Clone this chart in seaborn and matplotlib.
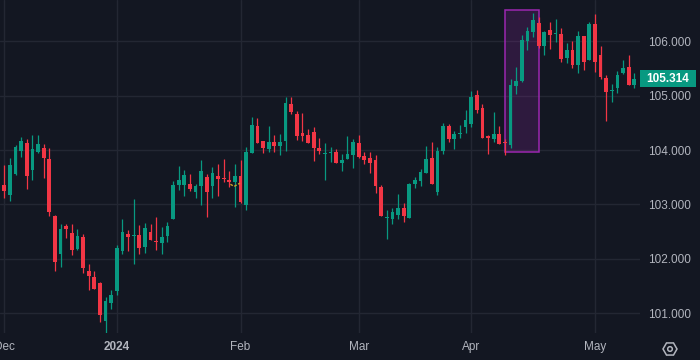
import numpy as np
import pandas as pd
import matplotlib
matplotlib.use("Agg")
import matplotlib.pyplot as plt
import seaborn as sns
from matplotlib.patches import Rectangle, RegularPolygon, Circle
from matplotlib.transforms import blended_transform_factory, IdentityTransform

# ---------------- data (daily candles, Dec 2023 - May 2024) ----------------
opens = [103.36, 103.18, 103.55, 103.98, 104.13, 103.63, 103.96, 104.04, 103.83, 102.79,
         102.09, 102.60, 102.47, 102.18, 102.40, 101.77, 101.66, 101.55, 100.85, 101.18,
         101.40, 102.14, 102.45, 102.41, 102.44, 102.22, 102.49, 102.32, 102.29, 102.42,
         102.73, 103.36, 103.36, 103.37, 103.23, 103.34, 103.50, 103.34, 103.52, 103.48,
         103.45, 103.41, 103.52, 102.99, 103.94, 104.44, 104.17, 104.02, 104.15, 104.07,
         104.17, 104.85, 104.66, 104.31, 104.28, 104.33, 104.04, 103.93, 103.95, 103.96,
         103.76, 103.83, 103.91, 104.13, 103.89, 103.85, 103.82, 103.32, 102.74, 102.73,
         102.80, 102.93, 102.75, 103.37, 103.43, 103.58, 103.85, 103.23, 103.98, 104.44,
         104.20, 104.29, 104.42, 104.48, 105.01, 104.77, 104.25, 104.20, 104.29, 104.14,
         104.09, 105.18, 105.27, 106.01, 106.17, 106.34, 105.91, 106.21, 106.13, 106.13,
         105.69, 105.84, 105.56, 106.10, 105.66, 106.32, 105.75, 105.33, 105.09, 105.14,
         105.42, 105.53, 105.20]
highs = [103.72, 103.85, 104.09, 104.24, 104.20, 104.28, 104.28, 104.11, 104.04, 102.80,
         102.64, 102.64, 102.64, 102.55, 102.45, 101.90, 101.77, 101.57, 101.30, 101.42,
         102.25, 102.73, 102.53, 103.10, 102.62, 102.66, 102.64, 102.77, 102.58, 102.67,
         103.43, 103.71, 103.63, 103.56, 103.37, 103.82, 103.56, 103.69, 103.74, 103.83,
         103.61, 103.74, 103.82, 104.06, 104.61, 104.59, 104.17, 104.44, 104.28, 104.29,
         104.97, 104.97, 104.72, 104.68, 104.39, 104.42, 104.22, 104.13, 104.06, 104.02,
         103.93, 104.26, 104.20, 104.28, 103.96, 103.96, 103.91, 103.36, 102.90, 102.93,
         103.19, 103.02, 103.39, 103.50, 103.65, 104.07, 104.15, 104.06, 104.50, 104.48,
         104.35, 104.46, 104.74, 105.09, 105.10, 104.85, 104.28, 104.70, 104.44, 104.20,
         105.31, 105.53, 106.12, 106.26, 106.52, 106.45, 106.19, 106.36, 106.41, 106.24,
         105.97, 106.01, 106.19, 106.10, 106.36, 106.50, 105.91, 105.38, 105.21, 105.45,
         105.66, 105.75, 105.42]
lows = [103.12, 103.07, 103.54, 103.88, 103.29, 103.45, 103.94, 103.48, 102.79, 101.77,
        101.85, 102.38, 102.07, 102.16, 101.74, 101.42, 101.44, 100.84, 100.61, 101.07,
        101.33, 102.09, 102.14, 101.90, 102.09, 102.10, 102.34, 102.16, 102.09, 102.31,
        102.73, 103.26, 103.15, 103.25, 103.12, 102.99, 102.77, 103.12, 103.15, 103.41,
        103.32, 102.96, 103.02, 102.90, 103.94, 104.13, 103.94, 103.96, 103.96, 103.91,
        103.98, 104.66, 104.18, 104.17, 104.13, 103.80, 103.93, 103.45, 103.78, 103.76,
        103.61, 103.83, 103.67, 103.85, 103.74, 103.58, 103.21, 102.79, 102.36, 102.64,
        102.73, 102.68, 102.75, 103.30, 103.34, 103.58, 103.37, 103.17, 103.93, 104.15,
        104.02, 104.22, 104.31, 104.42, 104.68, 104.22, 103.93, 104.15, 104.11, 103.91,
        104.04, 105.03, 105.25, 105.84, 106.08, 105.88, 105.75, 105.86, 105.99, 105.62,
        105.60, 105.51, 105.42, 105.47, 105.66, 105.44, 105.31, 104.53, 104.88, 105.05,
        105.40, 105.20, 105.14]
closes = [103.25, 103.72, 104.06, 104.17, 103.53, 104.02, 104.11, 103.85, 102.86, 101.94,
          102.55, 102.55, 102.16, 102.42, 101.83, 101.68, 101.44, 100.96, 101.22, 101.33,
          102.20, 102.49, 102.40, 102.43, 102.20, 102.56, 102.34, 102.30, 102.40, 102.60,
          103.36, 103.45, 103.54, 103.28, 103.34, 103.61, 103.23, 103.58, 103.47, 103.47,
          103.41, 103.52, 103.04, 103.96, 104.46, 104.13, 104.04, 104.15, 104.07, 104.15,
          104.86, 104.70, 104.26, 104.26, 104.13, 104.04, 103.98, 103.94, 103.97, 103.76,
          103.82, 103.93, 104.15, 103.87, 103.82, 103.76, 103.34, 102.79, 102.76, 102.86,
          102.93, 102.79, 103.37, 103.45, 103.59, 103.83, 103.37, 103.98, 104.44, 104.20,
          104.29, 104.30, 104.55, 104.98, 104.74, 104.22, 104.23, 104.29, 104.11, 104.12,
          105.20, 105.27, 106.02, 106.19, 106.39, 105.91, 106.17, 106.12, 106.14, 105.67,
          105.84, 105.56, 106.10, 105.62, 106.32, 105.62, 105.34, 105.07, 105.11, 105.38,
          105.51, 105.20, 105.314]

month_labels = ["Dec", "2024", "Feb", "Mar", "Apr", "May"]
month_index = [0, 20, 42, 63, 83, 105]
price_ticks = [101.0, 102.0, 103.0, 104.0, 105.0, 106.0]

highlight_first, highlight_last = 89, 95
highlight_low, highlight_high = 103.96, 106.57

sketch_x = [40.2, 40.85, 41.9]
sketch_y = [103.37, 103.33, 103.39]

# ---------------- style ----------------
BG = "#131722"
GRID = "#232733"
TXT = "#b2b5be"
UP = "#089981"
DOWN = "#f23645"

sns.set_theme(style="dark", rc={"axes.facecolor": BG, "figure.facecolor": BG})
plt.rcParams["font.family"] = ["Liberation Sans", "DejaVu Sans"]

df = pd.DataFrame({"open": opens, "high": highs, "low": lows, "close": closes})
df["i"] = np.arange(len(df))
df["up"] = df["close"] >= df["open"]
df["color"] = np.where(df["up"], UP, DOWN)
df["bottom"] = df[["open", "close"]].min(axis=1)
df["height"] = (df["close"] - df["open"]).abs().clip(lower=0.02)

fig = plt.figure(figsize=(7, 3.6), dpi=100, facecolor=BG)
ax = fig.add_axes([0, 27 / 360, 640 / 700, 333 / 360])
ax.set_facecolor(BG)

# grid
for m in month_index:
    ax.axvline(m, color=GRID, lw=1, zorder=0)
for p in price_ticks:
    ax.axhline(p, color=GRID, lw=1, zorder=0)

# highlight box
ax.add_patch(Rectangle((highlight_first, highlight_low), highlight_last - highlight_first,
                       highlight_high - highlight_low, facecolor=(156/255, 39/255, 176/255, 0.2),
                       edgecolor="#9c27b0", lw=1.1, zorder=1))

# candles
ax.vlines(df["i"], df["low"], df["high"], colors=df["color"], lw=0.9, zorder=2)
ax.bar(df["i"], df["height"], bottom=df["bottom"], width=0.66, color=df["color"],
       linewidth=0, zorder=3)

# small sketch line
ax.plot(sketch_x, sketch_y, color="#c9a227", lw=1, ls=(0, (2, 1.2)), zorder=4)

ax.set_xlim(-0.764, 113.01)
ax.set_ylim(100.633, 106.76)
ax.grid(False)
sns.despine(ax=ax, left=True, bottom=True, right=True, top=True)

ax.set_xticks(month_index)
ax.set_xticklabels(month_labels)
for lab in ax.get_xticklabels():
    if lab.get_text() == "2024":
        lab.set_fontweight("bold")
        lab.set_color("#d1d4dc")
ax.tick_params(axis="x", length=0, pad=6, labelsize=8.5, labelcolor=TXT)

ax.yaxis.tick_right()
ax.set_yticks(price_ticks)
ax.set_yticklabels([f"{p:.3f}" for p in price_ticks])
ax.tick_params(axis="y", length=0, pad=6, labelsize=8.5, labelcolor=TXT)

# last price label
last = closes[-1]
tr = blended_transform_factory(ax.transAxes, ax.transData)
ax.add_patch(Rectangle((1.0, last - 0.155), 56 / 640, 0.31, transform=tr,
                       facecolor=UP, edgecolor="none", clip_on=False, zorder=5))
ax.text(1.0 + 28 / 640, last, f"{last:.3f}", transform=tr, ha="center", va="center",
        color="white", fontsize=8.5, fontweight="bold", clip_on=False, zorder=6)

# settings icon
fig.add_artist(RegularPolygon((670, 11), numVertices=6, radius=7, orientation=np.pi / 6,
                              transform=IdentityTransform(), facecolor="none",
                              edgecolor=TXT, lw=1.1))
fig.add_artist(Circle((670, 11), 2.3, transform=IdentityTransform(), facecolor="none",
                      edgecolor=TXT, lw=1.1))

fig.savefig("out.png", dpi=100, facecolor=BG)
